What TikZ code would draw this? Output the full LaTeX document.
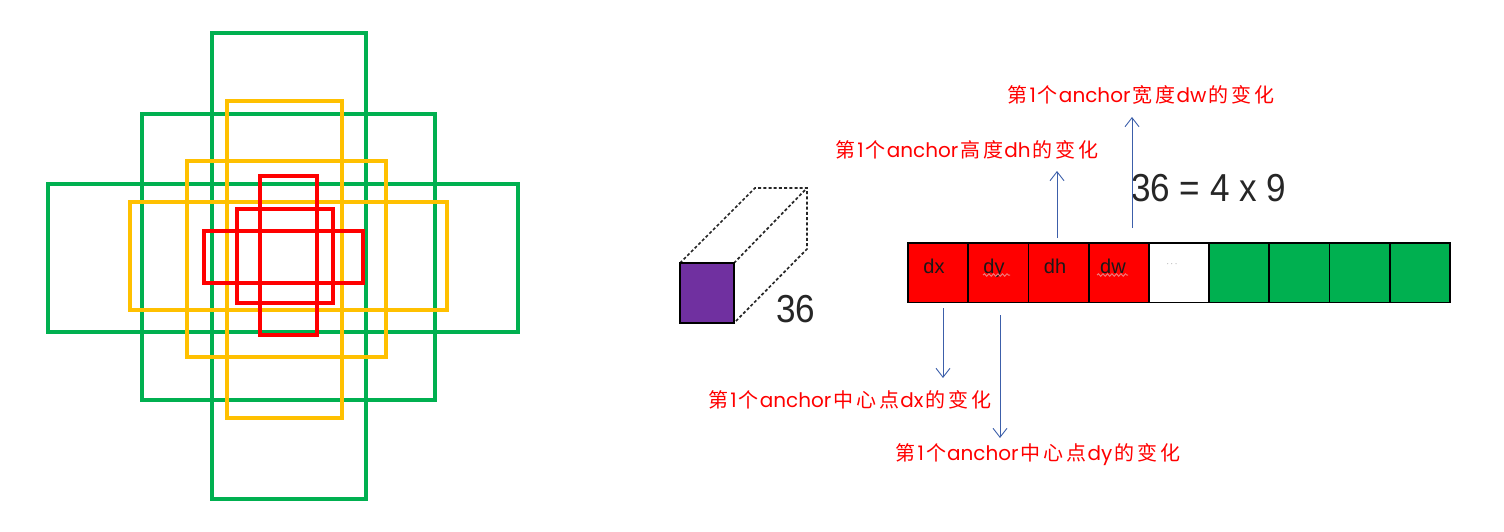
\documentclass[tikz,border=0pt]{standalone}
\usepackage{fontspec}
\setmainfont{Liberation Sans}
\newfontfamily\zhf[LetterSpace=15]{Noto Sans CJK SC}
\newfontfamily\enf{Poppins}
\usetikzlibrary{arrows.meta,decorations.pathmorphing}
\definecolor{gGreen}{RGB}{0,176,80}
\definecolor{gYellow}{RGB}{255,192,0}
\definecolor{gRed}{RGB}{255,0,0}
\definecolor{gPurple}{RGB}{112,48,160}
\definecolor{gBlue}{RGB}{60,95,170}
\definecolor{gText}{RGB}{38,38,38}
\definecolor{gWave}{RGB}{240,120,120}
\tikzset{
  abox/.style={draw=#1, line width=3.6pt},
  cell/.style={draw=black, line width=1.8pt, minimum width=60.22pt, minimum height=59.5pt, inner sep=0pt, outer sep=0pt},
  celltext/.style={anchor=base, inner sep=0pt, text=black!90, font=\fontsize{20}{20}\selectfont},
  cubeedge/.style={draw=black!85, line width=1.7pt, dash pattern=on 3pt off 2.2pt},
  arr/.style={draw=gBlue, line width=0.9pt, -{Straight Barb[length=9pt,width=14pt,line width=0.9pt]}},
  lbl/.style={text=gRed, inner sep=0pt, font=\fontsize{20}{20}\selectfont},
  big/.style={anchor=base west, inner sep=0pt, text=gText},
  wave/.style={draw=gWave, line width=1pt, decorate, decoration={snake, amplitude=1.2pt, segment length=4.5pt}}
}
\newcommand{\bigtxt}[1]{\scalebox{0.9}[1]{\fontsize{39}{39}\selectfont #1}}
\newcommand{\lbltext}[2]{{\zhf 第}\hspace{2pt}{\enf 1}\hspace{2pt}{\zhf 个}\hspace{1pt}{\enf anchor}\hspace{2pt}{\zhf #1}\hspace{1pt}{\enf #2}\hspace{2pt}{\zhf 的变化}}
\begin{document}
\begin{tikzpicture}[x=1pt,y=-1pt]
\useasboundingbox (0,0) rectangle (1504,531);
% ---- anchor boxes ----
\draw[abox=gGreen] (212,33) rectangle (366,499);
\draw[abox=gGreen] (142,114) rectangle (435,400);
\draw[abox=gGreen] (48,184) rectangle (518,332);
\draw[abox=gYellow] (227,101) rectangle (342,418);
\draw[abox=gYellow] (187,161) rectangle (386,357);
\draw[abox=gYellow] (130,202) rectangle (447,310);
\draw[abox=gRed] (260,176) rectangle (317,335);
\draw[abox=gRed] (237,209) rectangle (333,303);
\draw[abox=gRed] (204,231) rectangle (363,283);
% ---- cube ----
\coordinate (ftl) at (680,263);
\coordinate (ftr) at (734,263);
\coordinate (fbr) at (734,323);
\coordinate (btl) at (755,188);
\coordinate (btr) at (807,188);
\coordinate (bbr) at (807,249);
\draw[cubeedge] (ftl) -- (btl) -- (btr) -- (bbr) -- (fbr);
\draw[cubeedge] (ftr) -- (btr);
\fill[gPurple] (680,263) rectangle (734,323);
\draw[black, line width=1.6pt] (680,263) rectangle (734,323);
\node[big] (n36) at (776,322.7) {\bigtxt{36}};
% ---- cells ----
\node[cell, fill=gRed]   (c1) at (938.11,272.75) {};
\node[cell, fill=gRed]   (c2) at (998.33,272.75) {};
\node[cell, fill=gRed]   (c3) at (1058.55,272.75) {};
\node[cell, fill=gRed]   (c4) at (1118.77,272.75) {};
\node[cell, fill=white]  (c5) at (1178.99,272.75) {};
\node[cell, fill=gGreen] (c6) at (1239.21,272.75) {};
\node[cell, fill=gGreen] (c7) at (1299.43,272.75) {};
\node[cell, fill=gGreen] (c8) at (1359.65,272.75) {};
\node[cell, fill=gGreen] (c9) at (1419.87,272.75) {};
\node[celltext] (t1) at (934,273) {dx};
\node[celltext] (t2) at (994,273) {dy};
\node[celltext] (t3) at (1055,273) {dh};
\node[celltext] (t4) at (1113,273) {dw};
\node[anchor=center, inner sep=0pt, text=black!60, font=\fontsize{9}{9}\selectfont] (t5) at (1172,264) {$\cdots$};
\draw[wave] (983,275) -- (1010,275);
\draw[wave] (1097,275) -- (1128,275);
% ---- formula ----
\node[big] (eq) at (1131,201.7) {\bigtxt{36 = 4 x 9}};
% ---- labels ----
\node[lbl] (Ldw) at (1141,95) {\lbltext{宽度}{dw}};
\node[lbl] (Ldh) at (967,150) {\lbltext{高度}{dh}};
\node[lbl] (Ldx) at (850,400) {\lbltext{中心点}{dx}};
\node[lbl] (Ldy) at (1038,455) {\lbltext{中心点}{dy}};
% ---- arrows ----
\coordinate (dxS) at (943,308);
\coordinate (dxE) at (943,378);
\coordinate (dyS) at (1000,315);
\coordinate (dyE) at (1000,438);
\coordinate (dhS) at (1057,238);
\coordinate (dhE) at (1057,171);
\coordinate (dwS) at (1132,228);
\coordinate (dwE) at (1132,117);
\draw[arr] (dxS) -- (dxE);
\draw[arr] (dyS) -- (dyE);
\draw[arr] (dhS) -- (dhE);
\draw[arr] (dwS) -- (dwE);
\end{tikzpicture}
\end{document}
